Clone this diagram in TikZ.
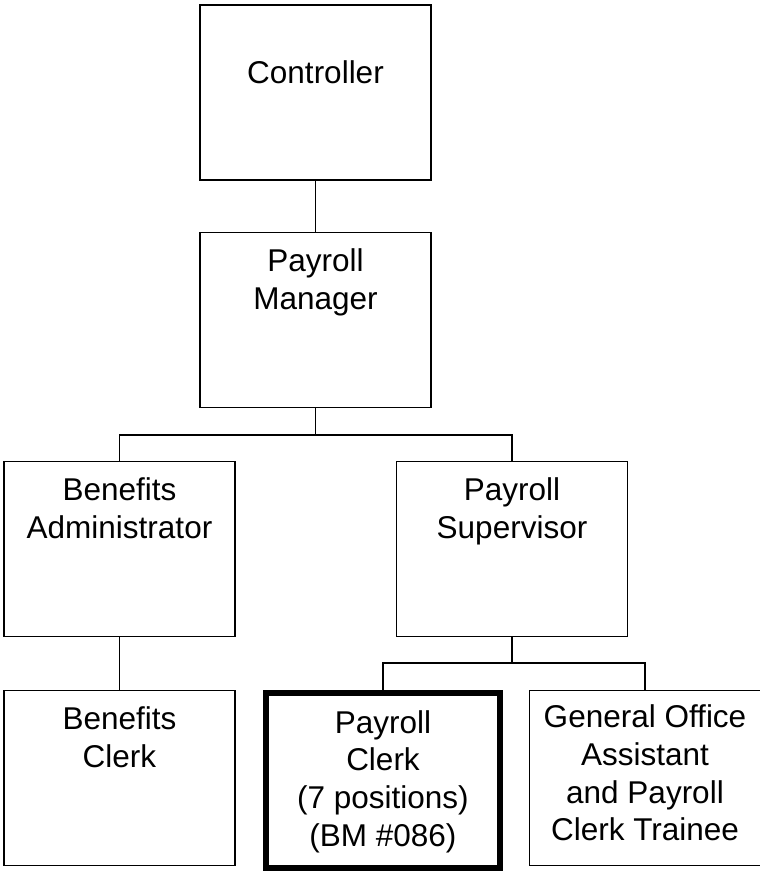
\documentclass[tikz,border=0pt]{standalone}
\usepackage{fontspec}
\setmainfont{Liberation Sans}
\newcommand{\fs}{\rule{0pt}{25bp}}
\begin{document}
\begin{tikzpicture}[x=1bp,y=-1bp,
  box/.style={draw=black, line width=1.8bp, rectangle, inner sep=0pt, minimum width=231bp, minimum height=175bp},
  thickbox/.style={box, line width=6bp, minimum width=234bp, minimum height=175bp},
  txt/.style={font=\fontsize{31.5bp}{37.7bp}\selectfont, align=center, inner sep=0pt, anchor=north},
  conn/.style={draw=black, line width=1.8bp}]
\useasboundingbox (0,0) rectangle (760,871);
\fill[white] (0,0) rectangle (760,871);
% boxes
\node[box] (ctrl) at (315.5,92.5) {};
\node[box] (mgr)  at (315.5,320) {};
\node[box] (badm) at (119.5,549) {};
\node[box] (sup)  at (512,549) {};
\node[box] (bclk) at (119.5,778) {};
\node[thickbox] (pclk) at (383,780.5) {};
\node[box] (goa)  at (645,778) {};
% texts
\node[txt] (tctrl) at ([yshift=-54bp]ctrl.north) {\fs Controller};
\node[txt] (tmgr)  at ([yshift=-15bp]mgr.north)  {\fs Payroll\\Manager};
\node[txt] (tbadm) at ([yshift=-15bp]badm.north) {\fs Benefits\\Administrator};
\node[txt] (tsup)  at ([yshift=-15bp]sup.north)  {\fs Payroll\\Supervisor};
\node[txt] (tbclk) at ([yshift=-15bp]bclk.north) {\fs Benefits\\Clerk};
\node[txt] (tpclk) at ([yshift=-18bp]pclk.north) {\fs Payroll\\Clerk\\(7 positions)\\(BM \#086)};
\node[txt] (tgoa)  at ([yshift=-13bp]goa.north)  {\fs General Office\\Assistant\\and Payroll\\Clerk Trainee};
% connectors
\coordinate (j1) at (315.5,435);
\coordinate (j2) at (512,663);
\draw[conn] (ctrl.south) -- (mgr.north);
\draw[conn] (mgr.south) -- (j1);
\draw[conn] (badm.north) |- (j1) -| (sup.north);
\draw[conn] (badm.south) -- (bclk.north);
\draw[conn] (sup.south) -- (j2);
\draw[conn] (pclk.north) |- (j2) -| (goa.north);
\end{tikzpicture}
\end{document}
